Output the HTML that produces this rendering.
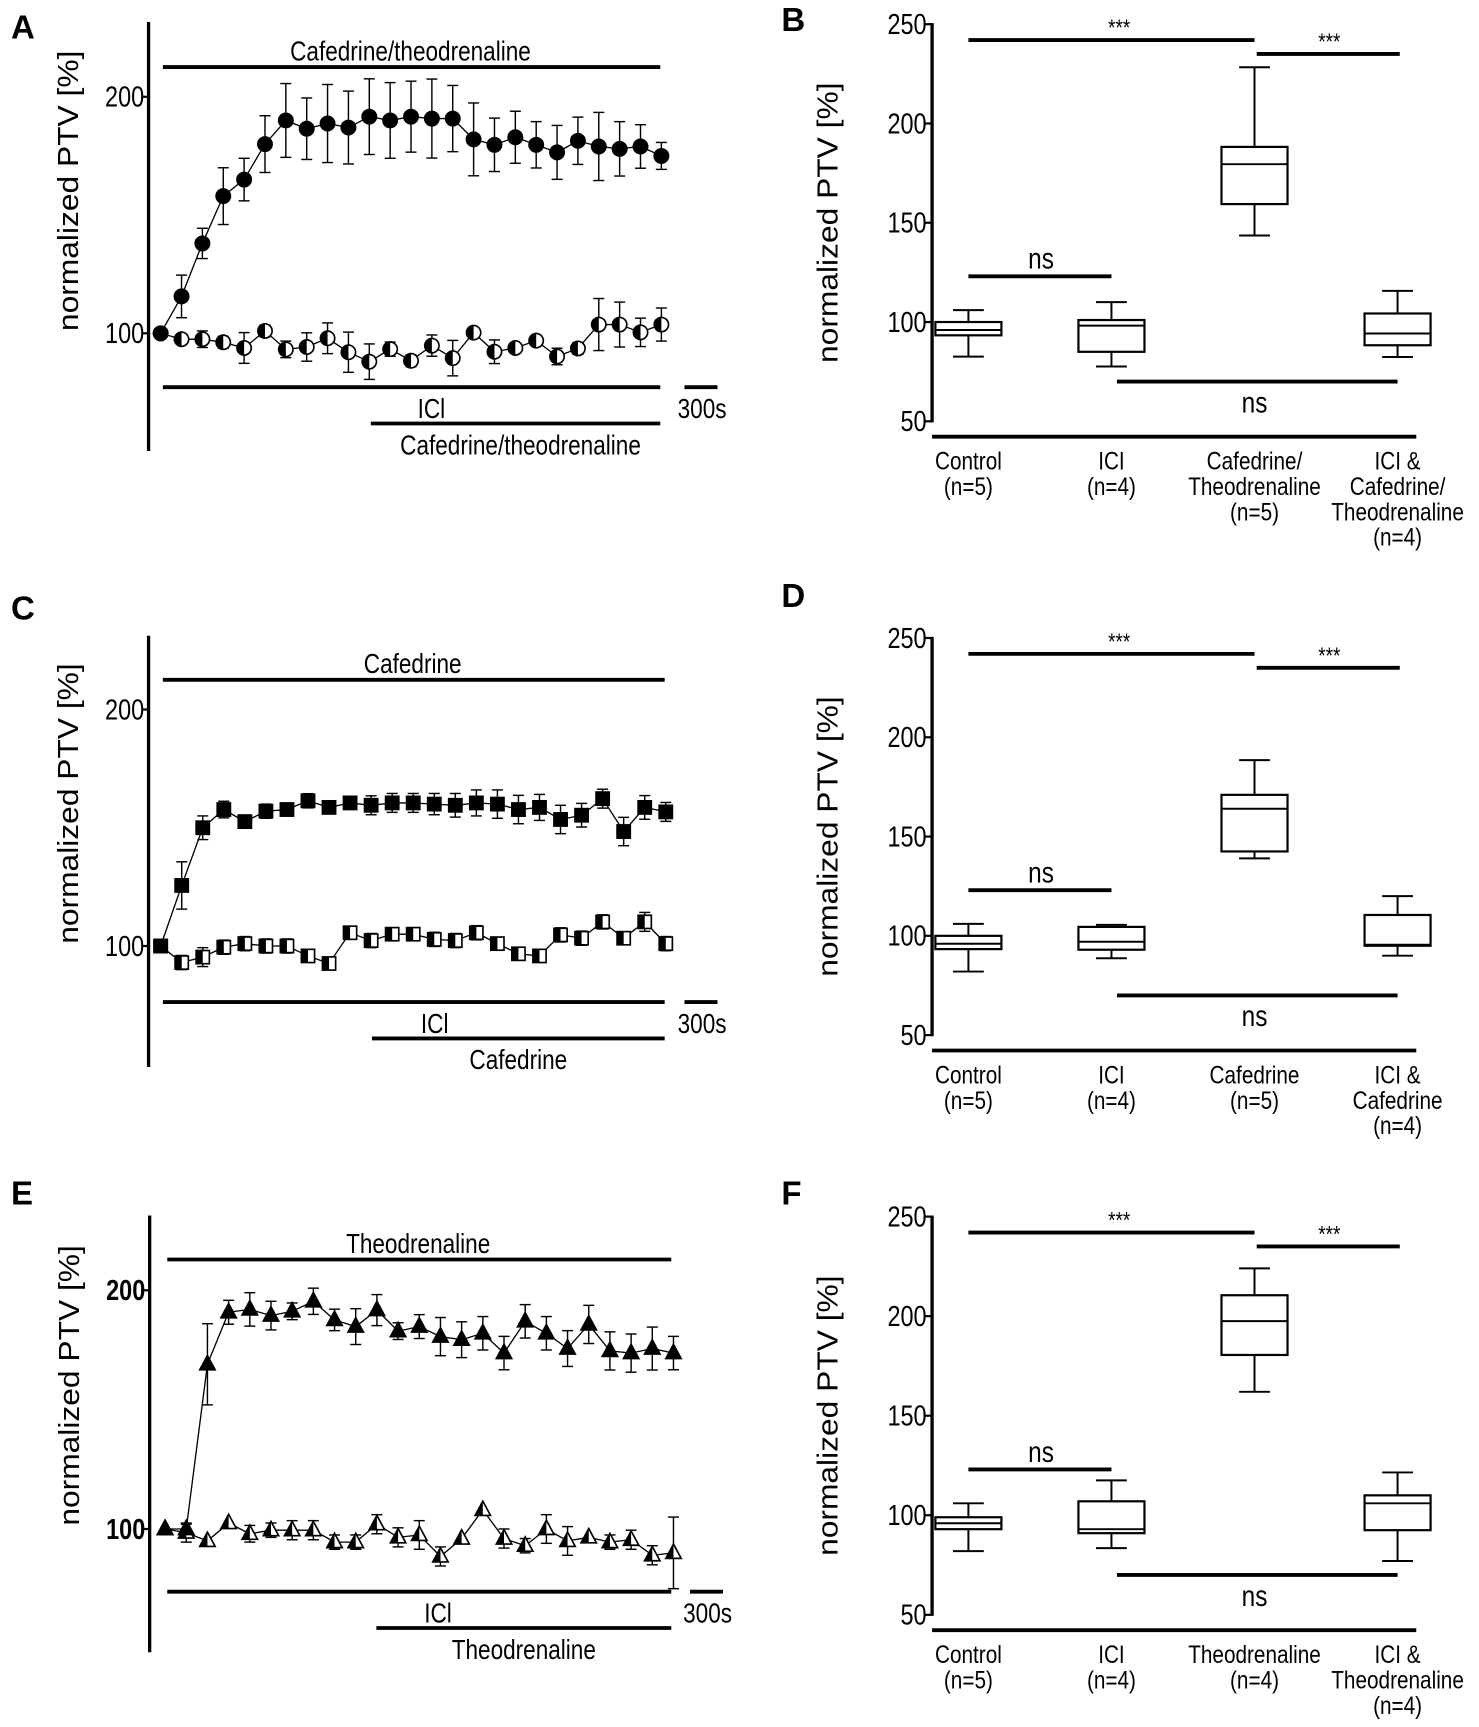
<!DOCTYPE html>
<html><head><meta charset="utf-8"><style>
html,body{margin:0;padding:0;background:#fff}
svg{display:block}
text{font-family:"Liberation Sans Narrow","Liberation Sans",sans-serif;fill:#000}
.t{font-family:"Liberation Sans",sans-serif}
</style></head><body>
<svg id="fig" xmlns="http://www.w3.org/2000/svg" width="1479" height="1727" viewBox="0 0 1344 1570" preserveAspectRatio="none"></svg>
<script>
// ---------- Data ----------
const aFilled=[100,115.6,138,158,165,180,190,186.5,188.7,187,191.6,190,191.6,190.8,190.8,182,179.7,182.9,179.7,176.5,181.4,179,178,179,175];
const aFilledErr=[0,9,6.4,12,9,12,15.6,13,16.5,15.4,16,16,15,16.7,14,15.4,11.3,11,9.8,11.4,10,14.4,11.5,9.2,5.7];
const aOpen=[100,97.5,97.5,96.2,93.8,101,93.2,94.2,97.9,92,88,93.3,88.4,94.8,89.5,100.3,92.2,93.8,96.9,90.2,93.6,103.7,103.7,100.4,103.7];
const aOpenErr=[0,2,3.5,2.5,6.5,2.5,3.5,6,6.5,8.5,7.5,3,2.5,4.5,7.5,0,5,2,0,3.5,2.5,11,9.5,6,7];
const cFilled=[100,125.6,150,157.7,152.6,157,157.7,161.4,158.6,160.5,159.5,160.5,160.5,160,159.5,160.5,160,157.7,158.6,153.5,155.3,162.3,148.4,158.6,156.7];
const cFilledErr=[0,10,5,3.5,2.5,3,2,3,2,2.5,4,4,4,4.5,5,5.5,6,6,5.5,6,5,4,6,5,4];
const cOpen=[100,93,95.3,99.5,101,100,100,95.8,92.6,105.6,102.3,105,105,102.8,102.3,105.6,101,96.7,95.8,104.7,103.3,110.2,103.3,110.2,101];
const cOpenErr=[0,3,4,3,3,3,3,2.5,1.5,2.5,3,2,2,3,3,3,2,2,1.5,3,3,3,2.5,4,3];
const eFilled=[100,100,169,190.8,192,189.4,191.2,195.4,187.6,184.8,191.7,182.9,184.8,180.6,179.3,182,173.7,187,182,175.6,185.7,174.6,173.7,175.6,173.7];
const eFilledErr=[0,2,17,5,7,6,3.5,5.5,4.5,7.5,6.5,3.5,5,8,7.5,7,7,7,7,7.5,8,8,8,9,7];
const eOpen=[100,98.5,95,102.5,98,99.5,99.5,99.5,94.5,94.5,102,96.5,97.5,88.5,96,108,96,93,100,95,96.5,94.5,95.5,89,90];
const eOpenErr=[0,4,0,0,3.5,3,4,4,3,3,4,4,6,4,0,0,4,3,6,6,0,3,4,4,15];
const boxCats=[["Control","(n=5)"],["ICI","(n=4)"],["Cafedrine/","Theodrenaline","(n=5)"],["ICI &","Cafedrine/","Theodrenaline","(n=4)"]];
const boxB=[[106,100,96,93.3,82.6],[110,101,98.2,85,77.6],[228.3,188.2,179.5,159.4,143.6],[115.7,104.3,94.2,88.3,82.4]];
const boxCatsD=[["Control","(n=5)"],["ICI","(n=4)"],["Cafedrine","(n=5)"],["ICI &","Cafedrine","(n=4)"]];
const boxD=[[106,100,96,93.3,82],[105.5,104.5,97,93,88.7],[188.5,171,164,142.5,139],[120,110.5,95.5,95,90]];
const boxCatsF=[["Control","(n=5)"],["ICI","(n=4)"],["Theodrenaline","(n=4)"],["ICI &","Theodrenaline","(n=4)"]];
const boxF=[[106,99,96,93,82],[117.5,107,93,91,83.5],[224,210.5,197.5,180.5,162],[121.5,110,106,92.5,77]];
const boxTicks=[50,100,150,200,250];
const lineTicks=[100,200];

// ---------- Helpers ----------
const NS="http://www.w3.org/2000/svg";
const svg=document.getElementById('fig');
function mk(tag,attrs,parent){const e=document.createElementNS(NS,tag);for(const k in attrs)e.setAttribute(k,attrs[k]);(parent||svg).appendChild(e);return e;}
function txt(s,x,y,size,parent,anchor,cls,weight){const e=mk('text',{x:x,y:y,'font-size':size,'text-anchor':anchor||'middle'},parent);if(cls)e.setAttribute('class',cls);if(weight)e.setAttribute('font-weight',weight);e.textContent=s;return e;}
function ntxt(s,x,y,size,parent,anchor,weight){const e=mk('text',{x:0,y:0,'font-size':size,'text-anchor':anchor||'middle',transform:`translate(${x},${y}) scale(0.82,1)`},parent);if(weight)e.setAttribute('font-weight',weight);e.textContent=s;return e;}
function ln(x1,y1,x2,y2,w,parent){return mk('line',{x1:x1,y1:y1,x2:x2,y2:y2,stroke:'#000','stroke-width':w},parent);}

function letter(s,x,y){const t=txt(s,x,y,30,svg,'start','t','bold');

}

function markerShape(g,type,x,y,filled){
  const r=6.5;
  if(type==='circle'){
    mk('circle',{cx:x,cy:y,r:r,fill:filled?'#000':'#fff',stroke:'#000','stroke-width':1.5},g);
    if(!filled)mk('path',{d:`M${x},${y-r} A${r},${r} 0 0 0 ${x},${y+r} Z`,fill:'#000'},g);
  }else if(type==='square'){
    mk('rect',{x:x-6,y:y-6,width:12,height:12,fill:filled?'#000':'#fff',stroke:'#000','stroke-width':1.5},g);
    if(!filled)mk('rect',{x:x-6,y:y-6,width:6,height:12,fill:'#000'},g);
  }else{
    mk('polygon',{points:`${x},${y-8} ${x+7},${y+5} ${x-7},${y+5}`,fill:filled?'#000':'#fff',stroke:'#000','stroke-width':1.5},g);
    if(!filled)mk('polygon',{points:`${x},${y-8} ${x},${y+5} ${x-7},${y+5}`,fill:'#000'},g);
  }
}

function series(g,vals,errs,x0,x1,yScale,type,filled,name){
  const sg=mk('g',{},g);
  
  
  const n=vals.length;const xs=i=>x0+i*(x1-x0)/(n-1);
  let d='';vals.forEach((v,i)=>{d+=(i?'L':'M')+xs(i)+','+yScale(v);});
  mk('path',{d:d,fill:'none',stroke:'#000','stroke-width':1.2},sg);
  vals.forEach((v,i)=>{const e=errs[i];if(e>0){const x=xs(i),t=yScale(v+e),b=yScale(v-e);
    ln(x,t,x,b,1.3,sg);ln(x-5,t,x+5,t,1.3,sg);ln(x-5,b,x+5,b,1.3,sg);}});
  vals.forEach((v,i)=>{markerShape(sg,type,xs(i),yScale(v),filled);});
}

function ytitle(g,x,y){
  const yt=mk('text',{x:0,y:0,'font-size':26,'text-anchor':'middle',class:'t',textLength:255,lengthAdjust:'spacingAndGlyphs',transform:`translate(${x},${y}) rotate(-90)`},g);
  yt.textContent='normalized PTV [%]';
  
  
}

function linePanel(cfg){
  const g=mk('g',{});
  
  
  const y=v=>cfg.y100-(v-100)*(cfg.y100-cfg.y200)/100;
  ln(cfg.ax,cfg.top,cfg.ax,cfg.bot,3,g);
  lineTicks.forEach(t=>{ln(cfg.ax-5,y(t),cfg.ax,y(t),2,g);
    const l=ntxt(String(t),cfg.ax-4,y(t)+9,26,g,'end',cfg.bold?'bold':null);
    
    });
  ytitle(g,cfg.ax-64,(cfg.y200+cfg.y100)/2-22);
  ln(cfg.x0+2,cfg.topBar,cfg.barEnd,cfg.topBar,3.5,g);
  ntxt(cfg.drug,(cfg.x0+cfg.barEnd)/2,cfg.topBar-6,25,g);
  ln(cfg.x0+2,cfg.botBar,cfg.barEnd,cfg.botBar,3.5,g);
  ntxt('ICl',cfg.iclX,cfg.botBar+28,25,g);
  ln(cfg.bar2,cfg.botBar+33,cfg.barEnd,cfg.botBar+33,3.5,g);
  ntxt(cfg.drug,cfg.drugX,cfg.botBar+61,25,g);
  ln(cfg.sb,cfg.botBar,cfg.sb+30,cfg.botBar,3.5,g);
  const sbt=ntxt('300s',cfg.sb+16,cfg.botBar+28,25,g);
  
  
  series(g,cfg.open,cfg.openErr,cfg.x0,cfg.x1,y,cfg.type,false,'series-ici-plus-drug');
  series(g,cfg.filled,cfg.filledErr,cfg.x0,cfg.x1,y,cfg.type,true,'series-drug');
}

function boxPanel(cfg){
  const g=mk('g',{});
  
  
  const y=v=>cfg.y50-(v-50)*(cfg.y50-cfg.y250)/200;
  const xc=[880,1010,1140,1270];
  ln(cfg.ax,y(250)-1,cfg.ax,y(50)+1,3,g);
  boxTicks.forEach(t=>{ln(cfg.ax-6,y(t),cfg.ax,y(t),2,g);
    const l=ntxt(String(t),cfg.ax-5,y(t)+9,26,g,'end');
    
    });
  ytitle(g,cfg.ax-86,(y(250)+y(50))/2);
  ln(cfg.ax,cfg.xaxis,1287,cfg.xaxis,3.5,g);
  cfg.data.forEach((b,i)=>{const bg=mk('g',{},g);
    
    
    const x=xc[i],w=30;
    ln(x,y(b[0]),x,y(b[1]),1.8,bg);ln(x,y(b[3]),x,y(b[4]),1.8,bg);
    ln(x-14,y(b[0]),x+14,y(b[0]),1.8,bg);ln(x-14,y(b[4]),x+14,y(b[4]),1.8,bg);
    mk('rect',{x:x-w,y:y(b[1]),width:2*w,height:y(b[3])-y(b[1]),fill:'#fff',stroke:'#000','stroke-width':2},bg);
    ln(x-w,y(b[2]),x+w,y(b[2]),1.8,bg);
    cfg.cats[i].forEach((s,j)=>{const l=ntxt(s,x,cfg.xaxis+30+j*23,23,bg);
      
      });
  });
  ln(880,y(242),1140,y(242),3.5,g);ntxt('***',1017,y(242)-4,21,g);
  ln(1142,y(235),1272,y(235),3.5,g);ntxt('***',1208,y(235)-4,21,g);
  ln(880,y(123),1010,y(123),3.5,g);ntxt('ns',946,y(123)-7,27,g);
  ln(1015,y(70),1270,y(70),3.5,g);ntxt('ns',1140,y(70)+28,27,g);
}

letter('A',10,35);letter('B',710,28);letter('C',10,563);letter('D',710,552);letter('E',10,1095);letter('F',710,1095);

linePanel({name:'panel-a-chart',ax:135,top:20,bot:410,y100:303,y200:88,x0:146,x1:601,barEnd:600,topBar:61,botBar:352,iclX:392,bar2:337,drugX:473,sb:622,drug:'Cafedrine/theodrenaline',type:'circle',filled:aFilled,filledErr:aFilledErr,open:aOpen,openErr:aOpenErr});
linePanel({name:'panel-c-chart',ax:135,top:578,bot:970,y100:860,y200:645,x0:146,x1:605,barEnd:604,topBar:618,botBar:911,iclX:395,bar2:338,drugX:471,sb:622,drug:'Cafedrine',type:'square',filled:cFilled,filledErr:cFilledErr,open:cOpen,openErr:cOpenErr});
linePanel({name:'panel-e-chart',ax:136,top:1105,bot:1502,y100:1390,y200:1173,x0:150,x1:612,barEnd:610,topBar:1145,botBar:1447,iclX:398,bar2:342,drugX:476,sb:627,drug:'Theodrenaline',type:'tri',bold:true,filled:eFilled,filledErr:eFilledErr,open:eOpen,openErr:eOpenErr});

boxPanel({name:'panel-b-boxplot',ax:847,y250:22,y50:383,xaxis:397,cats:boxCats,data:boxB});
boxPanel({name:'panel-d-boxplot',ax:847,y250:580,y50:941,xaxis:955,cats:boxCatsD,data:boxD});
boxPanel({name:'panel-f-boxplot',ax:847,y250:1106,y50:1468,xaxis:1482,cats:boxCatsF,data:boxF});
</script>
</body></html>
